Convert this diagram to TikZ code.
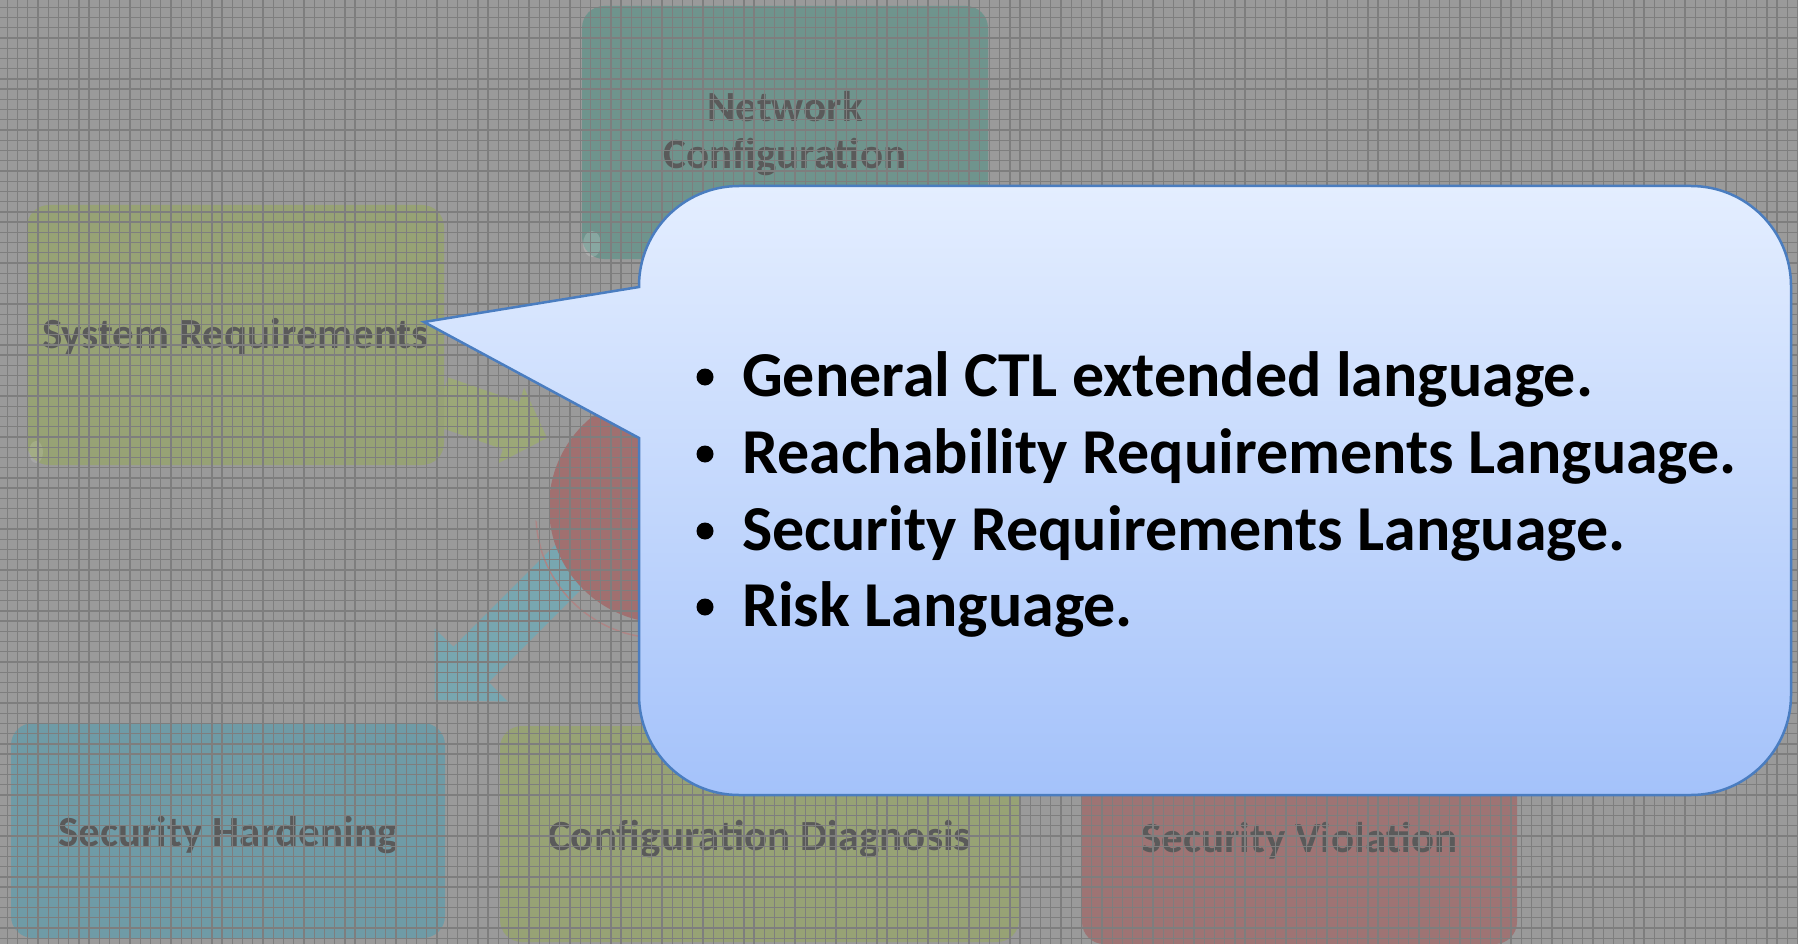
\documentclass[tikz,border=0pt]{standalone}
\usepackage{fontspec}
\setmainfont{Carlito}
\usetikzlibrary{calc}

\definecolor{bggray}{HTML}{9A9A9A}
\definecolor{gridgray}{HTML}{7E7E7E}
\definecolor{labelgray}{HTML}{5A5A5A}
\definecolor{tealbox}{HTML}{6F948D}
\definecolor{olivebox}{HTML}{97A275}
\definecolor{bluebox}{HTML}{6F9BA6}
\definecolor{redbox}{HTML}{9E7474}
\definecolor{hubred}{HTML}{A07070}
\definecolor{arrowteal}{HTML}{78A6B0}
\definecolor{arrowolive}{HTML}{9CA878}
\definecolor{calloutedge}{HTML}{4A7DC0}
\definecolor{callouttop}{HTML}{E4EEFF}
\definecolor{calloutbottom}{HTML}{A4C2FA}

\tikzset{
  stagebox/.style={rounded corners=22pt, inner sep=0pt},
  stagelabel/.style={inner sep=0pt, align=center,
    text=labelgray, font=\fontsize{43}{47}\selectfont\bfseries},
  gridline/.style={draw=gridgray, line width=1.3pt},
  bubble/.style={draw=calloutedge, line width=2.5pt,
    top color=callouttop, bottom color=calloutbottom},
  itemtext/.style={anchor=base west, inner sep=0pt,
    font=\fontsize{64}{76}\selectfont\bfseries},
  itemdot/.style={circle, fill=black, inner sep=0pt, minimum size=17pt},
}

\begin{document}
\begin{tikzpicture}[x=1pt, y=-1pt]
\useasboundingbox (0,0) rectangle (1798,944);
\fill[bggray] (0,0) rectangle (1798,944);

% block arrows of the process diagram
\coordinate (ga1) at (448.2,377.4);
\coordinate (ga2) at (519.3,402.0);
\coordinate (ga3) at (524.1,387.8);
\coordinate (gatip) at (547,438);
\coordinate (ga4) at (498.0,463.4);
\coordinate (ga5) at (502.9,449.2);
\coordinate (ga6) at (431.8,424.6);
\fill[arrowolive] (ga1) -- (ga2) -- (ga3) -- (gatip) -- (ga4) -- (ga5) -- (ga6) -- cycle;

\coordinate (ta1) at (577.7,522.3);
\coordinate (ta2) at (453.3,646.7);
\coordinate (ta3) at (434.5,628.5);
\coordinate (tatip) at (435,700);
\coordinate (ta4) at (507.5,701.5);
\coordinate (ta5) at (488.7,682.1);
\coordinate (ta6) at (613.0,557.7);
\fill[arrowteal] (ta1) -- (ta2) -- (ta3) -- (tatip) -- (ta4) -- (ta5) -- (ta6) -- cycle;

% central hub with its lower rim
\begin{scope}
  \clip (415,400) -- (815,800) -- (300,800) -- (300,400) -- cycle;
  \draw[hubred!85!white, line width=1.5pt] (660,514) circle[radius=124];
\end{scope}
\fill[hubred] (665,507) circle[radius=116];

% stage boxes
\node[stagebox, fill=tealbox, minimum width=406pt, minimum height=253pt]
  (netconf) at (785,132.5) {};
\node[stagebox, fill=olivebox, minimum width=417pt, minimum height=260pt]
  (sysreq) at (235.5,335) {};
\node[stagebox, fill=bluebox, minimum width=434pt, minimum height=215pt]
  (harden) at (228,830.5) {};
\node[stagebox, fill=olivebox, minimum width=519pt, minimum height=216pt]
  (diag) at (759.5,834) {};
\node[stagebox, fill=redbox, minimum width=435pt, minimum height=216pt]
  (violation) at (1299.5,836) {};

% stage captions
\node[stagelabel] (netconftext) at ($(netconf)+(0,1)$) {Network\\Configuration};
\node[stagelabel] (sysreqtext) at ($(sysreq)+(0,2)$) {System Requirements};
\node[stagelabel] (hardentext) at ($(harden)+(0,5)$) {Security Hardening};
\node[stagelabel] (diagtext) at ($(diag)+(0,5)$) {Configuration Diagnosis};
\node[stagelabel] (violationtext) at ($(violation)+(0,5)$) {Security Violation};

% gel highlights on the box corners
\fill[white, opacity=0.18] (592,244) ellipse[x radius=9, y radius=13];
\fill[white, opacity=0.12] (36,452) ellipse[x radius=7, y radius=11];

% graph-paper overlay
\foreach \i in {0,...,175} {
  \draw[gridline] ({7.3+\i*10.23},0) -- ({7.3+\i*10.23},944);
}
\foreach \j in {0,...,92} {
  \draw[gridline] (0,{7.3+\j*10.23}) -- (1798,{7.3+\j*10.23});
}

% speech bubble
\draw[bubble] (639,287) -- (424,322) -- (639,438) -- (639,695)
  .. controls (639,750.2) and (683.8,795) .. (739,795)
  -- (1691,795)
  .. controls (1746.2,795) and (1791,750.2) .. (1791,695)
  -- (1791,286)
  .. controls (1791,230.8) and (1746.2,186) .. (1691,186)
  -- (739,186)
  .. controls (683.8,186) and (639,230.8) .. (639,286)
  -- cycle;

\node[itemdot] (d1) at (705,377) {};
\node[itemtext] (t1) at (742,396) {General CTL extended language.};
\node[itemdot] (d2) at (705,454) {};
\node[itemtext] (t2) at (742,473) {Reachability Requirements Language.};
\node[itemdot] (d3) at (705,531) {};
\node[itemtext] (t3) at (742,550) {Security Requirements Language.};
\node[itemdot] (d4) at (705,607) {};
\node[itemtext] (t4) at (742,626) {Risk Language.};
\end{tikzpicture}
\end{document}
